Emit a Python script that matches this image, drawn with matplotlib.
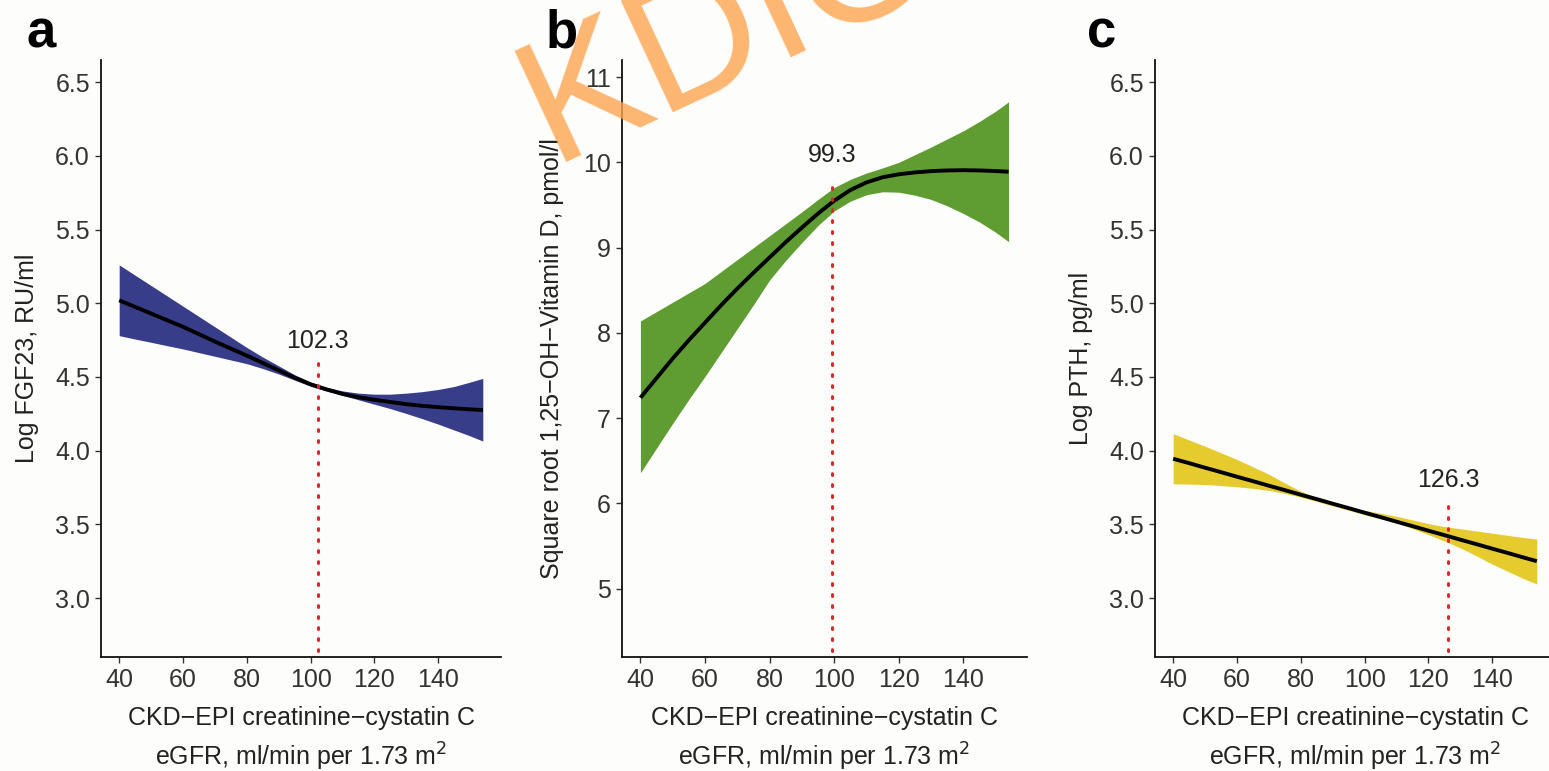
import matplotlib
matplotlib.use("Agg")
import matplotlib.pyplot as plt

plt.rcParams['font.family'] = ['Liberation Sans', 'DejaVu Sans']

# eGFR grid (ml/min per 1.73 m2)
egfr = [40, 45, 50, 55, 60, 65, 70, 75, 80, 85, 90, 95, 100,
        105, 110, 115, 120, 125, 130, 135, 140, 145, 150, 154]

# a: log FGF23 fit with confidence band
fgf23_fit = [5.02, 4.975, 4.93, 4.885, 4.84, 4.79, 4.74, 4.692, 4.645, 4.595, 4.545, 4.495, 4.45,
             4.415, 4.385, 4.362, 4.345, 4.33, 4.315, 4.304, 4.295, 4.287, 4.28, 4.275]
fgf23_lo = [4.78, 4.757, 4.735, 4.712, 4.69, 4.665, 4.64, 4.615, 4.59, 4.557, 4.52, 4.478, 4.437,
            4.405, 4.375, 4.345, 4.315, 4.285, 4.252, 4.217, 4.18, 4.14, 4.10, 4.065]
fgf23_hi = [5.26, 5.19, 5.12, 5.05, 4.98, 4.91, 4.84, 4.77, 4.70, 4.635, 4.575, 4.515, 4.465,
            4.43, 4.405, 4.39, 4.383, 4.383, 4.39, 4.40, 4.415, 4.435, 4.465, 4.49]

# b: square root 1,25-OH-vitamin D fit with confidence band
vitd_fit = [7.24, 7.47, 7.70, 7.915, 8.12, 8.325, 8.52, 8.705, 8.885, 9.065, 9.235, 9.40, 9.55,
            9.675, 9.765, 9.825, 9.86, 9.882, 9.897, 9.905, 9.908, 9.905, 9.898, 9.89]
vitd_lo = [6.36, 6.65, 6.94, 7.22, 7.49, 7.77, 8.05, 8.33, 8.62, 8.85, 9.06, 9.26, 9.43,
           9.545, 9.62, 9.655, 9.65, 9.615, 9.565, 9.49, 9.40, 9.30, 9.18, 9.07]
vitd_hi = [8.14, 8.25, 8.36, 8.47, 8.58, 8.72, 8.86, 9.0, 9.14, 9.28, 9.42, 9.565, 9.705,
           9.80, 9.875, 9.935, 10.0, 10.09, 10.18, 10.275, 10.37, 10.48, 10.60, 10.71]

# c: log PTH fit with confidence band
pth_fit = [3.945, 3.915, 3.884, 3.854, 3.823, 3.793, 3.762, 3.732, 3.701, 3.671, 3.640, 3.610, 3.579,
           3.549, 3.518, 3.488, 3.457, 3.427, 3.396, 3.366, 3.335, 3.305, 3.274, 3.250]
pth_lo = [3.775, 3.773, 3.77, 3.763, 3.755, 3.744, 3.73, 3.71, 3.685, 3.655, 3.625, 3.595, 3.565,
          3.538, 3.51, 3.472, 3.43, 3.387, 3.34, 3.287, 3.23, 3.18, 3.13, 3.095]
pth_hi = [4.115, 4.072, 4.03, 3.985, 3.94, 3.89, 3.84, 3.78, 3.725, 3.68, 3.645, 3.615, 3.595,
          3.575, 3.555, 3.53, 3.505, 3.485, 3.47, 3.455, 3.44, 3.425, 3.41, 3.40]

# breakpoints, the y position of their labels and of the dotted-line tops
breakpoints = [102.3, 99.3, 126.3]
label_y = [4.745, 10.09, 3.80]
line_top = [4.62, 9.81, 3.68]

panel_letters = ['a', 'b', 'c']
y_titles = ['Log FGF23, RU/ml',
            'Square root 1,25\u2212OH\u2212Vitamin D, pmol/l',
            'Log PTH, pg/ml']
x_ticks = [40, 60, 80, 100, 120, 140]
y_ticks = [[3.0, 3.5, 4.0, 4.5, 5.0, 5.5, 6.0, 6.5],
           [5, 6, 7, 8, 9, 10, 11],
           [3.0, 3.5, 4.0, 4.5, 5.0, 5.5, 6.0, 6.5]]
y_ticklabels = [[f"{v:.1f}" for v in y_ticks[0]],
                [str(v) for v in y_ticks[1]],
                [f"{v:.1f}" for v in y_ticks[2]]]
y_limits = [(2.60, 6.65), (4.20, 11.20), (2.60, 6.65)]
x_limits = (34.3, 159.7)

fits = [(fgf23_fit, fgf23_lo, fgf23_hi),
        (vitd_fit, vitd_lo, vitd_hi),
        (pth_fit, pth_lo, pth_hi)]
band_colors = ['#383d8a', '#5f9d33', '#e6cb2e']

W, H = 1549, 771
fig = plt.figure(figsize=(W / 100, H / 100), dpi=100, facecolor='#fdfdfb')

# pixel extents of the three panels: (left, right)
panel_x = [(101, 501), (622, 1027), (1155, 1555)]
top_px, bottom_px = 60, 657
ylabel_x = [-0.155, -0.142, -0.155]
letter_x = [26, 546, 1087]

tick_color = '#333333'
text_color = '#222222'
fs = 18

for i in range(3):
    l, r = panel_x[i]
    ax = fig.add_axes([l / W, 1 - bottom_px / H, (r - l) / W, (bottom_px - top_px) / H])
    ax.set_facecolor('#fdfdfb')
    fit, lo, hi = fits[i]
    ax.fill_between(egfr, lo, hi, color=band_colors[i], linewidth=0, zorder=2)
    ax.plot(egfr, fit, color='black', lw=2.8, zorder=3, solid_capstyle='butt',
            solid_joinstyle='round')

    ymin, ymax = y_limits[i]
    ax.plot([breakpoints[i], breakpoints[i]], [ymin + 0.01 * (ymax - ymin), line_top[i]],
            color='#d42a2a', lw=2.2, linestyle=(0, (0.6, 3.0)),
            dash_capstyle='round', zorder=4)
    ax.text(breakpoints[i], label_y[i], f"{breakpoints[i]:.1f}", ha='center', va='center',
            fontsize=fs, color=text_color, zorder=5)

    ax.set_xlim(*x_limits)
    ax.set_ylim(ymin, ymax)
    ax.set_xticks(x_ticks)
    ax.set_xticklabels([str(t) for t in x_ticks])
    ax.set_yticks(y_ticks[i])
    ax.set_yticklabels(y_ticklabels[i])
    for s in ['top', 'right']:
        ax.spines[s].set_visible(False)
    for s in ['left', 'bottom']:
        ax.spines[s].set_linewidth(1.3)
        ax.spines[s].set_color('#111111')
    ax.tick_params(axis='both', length=4, width=1.0, color=tick_color,
                   labelcolor=tick_color, labelsize=fs)
    ax.tick_params(axis='x', pad=4)
    ax.tick_params(axis='y', pad=4)

    ax.set_ylabel(y_titles[i], fontsize=fs, color=text_color)
    ax.yaxis.set_label_coords(ylabel_x[i], 0.5)

    ax.text(0.5, -0.102, 'CKD\u2212EPI creatinine\u2212cystatin C', transform=ax.transAxes,
            ha='center', va='center', fontsize=fs, color=text_color)
    ax.text(0.5, -0.168, 'eGFR, ml/min per 1.73 m$^2$', transform=ax.transAxes,
            ha='center', va='center', fontsize=fs, color=text_color)

    fig.text(letter_x[i] / W, 1 - 48 / H, panel_letters[i], fontsize=38,
             fontweight='bold', ha='left', va='baseline', color='black')

# watermark
fig.text(552 / W, 1 - 162 / H, 'KDIGO', rotation=25, rotation_mode='anchor',
         ha='left', va='baseline', fontsize=128, color='#ffa54f', alpha=0.8, zorder=10)

fig.savefig('out.png', dpi=100, facecolor=fig.get_facecolor())
